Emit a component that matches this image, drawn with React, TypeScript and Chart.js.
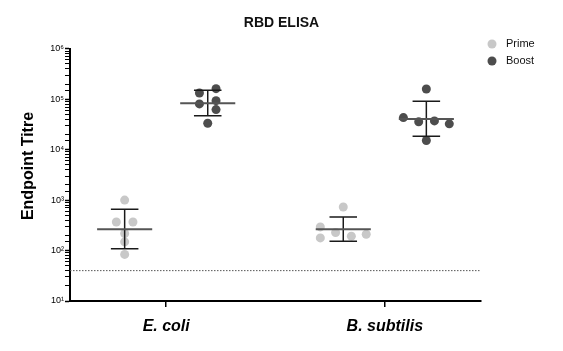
import React, { useEffect, useRef } from 'react';
import { Chart, registerables } from 'chart.js';

Chart.register(...registerables);

const chartTitle = 'RBD ELISA';
const yAxisTitle = 'Endpoint Titre';
const categories = ['E. coli', 'B. subtilis'];
const seriesNames = ['Prime', 'Boost'];
const seriesColors = ['#c8c8c8', '#4d4d4d'];
const yMin = 10;
const yMax = 1e6;
const detectionLimit = 40;

// individual animals (endpoint titres) and their horizontal jitter within the column
const primeEcoli = [1000, 369, 369, 218, 149, 84];
const primeEcoliJitter = [0, -0.038, 0.038, 0, 0, 0];
const boostEcoli = [162000, 133000, 93800, 80700, 62300, 33400];
const boostEcoliJitter = [0.038, -0.038, 0.038, -0.038, 0.038, 0];
const primeBsub = [731, 294, 178, 228, 193, 211];
const primeBsubJitter = [0, -0.105, -0.105, -0.035, 0.037, 0.105];
const boostBsub = [160000, 43300, 35600, 37200, 32500, 15200];
const boostBsubJitter = [0, -0.105, -0.035, 0.037, 0.105, 0];

// geometric mean and SD range per category
const primeMean = [265, 265];
const primeLower = [108, 153];
const primeUpper = [658, 463];
const boostMean = [83000, 40800];
const boostLower = [46800, 18500];
const boostUpper = [150000, 90800];

const FONT = "'Liberation Sans', Arial, Helvetica, sans-serif";
const GROUP_OFFSET = 0.19;
const MEAN_HALF = 0.126;
const CAP_HALF = 0.063;
const SUP: Record<number, string> = { 0: '⁰', 1: '¹', 2: '²', 3: '³', 4: '⁴', 5: '⁵', 6: '⁶' };

function isPow10(v: number) {
  const l = Math.log10(v);
  return Math.abs(l - Math.round(l)) < 1e-9;
}

function pts(cx: number, values: number[], jitter: number[]) {
  return values.map((v, i) => ({ x: cx + jitter[i], y: v }));
}

function whisker(cx: number, lo: number, hi: number) {
  return [
    { x: cx, y: lo }, { x: cx, y: hi }, { x: cx, y: null },
    { x: cx - CAP_HALF, y: hi }, { x: cx + CAP_HALF, y: hi }, { x: cx, y: null },
    { x: cx - CAP_HALF, y: lo }, { x: cx + CAP_HALF, y: lo },
  ];
}

function meanLine(cx: number, m: number) {
  return [{ x: cx - MEAN_HALF, y: m }, { x: cx + MEAN_HALF, y: m }];
}

const decorPlugin = {
  id: 'decor',
  afterDraw(chart: any) {
    const ctx = chart.ctx;
    ctx.save();
    // legend
    seriesNames.forEach((name, i) => {
      const y = 44 + i * 17;
      ctx.beginPath();
      ctx.fillStyle = seriesColors[i];
      ctx.arc(492, y, 4.5, 0, Math.PI * 2);
      ctx.fill();
      ctx.fillStyle = '#111';
      ctx.font = `11px ${FONT}`;
      ctx.textBaseline = 'middle';
      ctx.textAlign = 'left';
      ctx.fillText(name, 506, y);
    });
    // y-axis title
    ctx.translate(28.5, 166);
    ctx.rotate(-Math.PI / 2);
    ctx.fillStyle = '#000';
    ctx.font = `bold 16px ${FONT}`;
    ctx.textAlign = 'center';
    ctx.textBaseline = 'middle';
    ctx.fillText(yAxisTitle, 0, 0);
    ctx.restore();
  },
};

export default function App() {
  const ref = useRef<HTMLCanvasElement>(null);
  useEffect(() => {
    if (!ref.current) return;
    const datasets: any[] = [];
    categories.forEach((_, c) => {
      const cx = c + 1;
      const pX = cx - GROUP_OFFSET;
      const bX = cx + GROUP_OFFSET;
      const pVals = c === 0 ? primeEcoli : primeBsub;
      const pJit = c === 0 ? primeEcoliJitter : primeBsubJitter;
      const bVals = c === 0 ? boostEcoli : boostBsub;
      const bJit = c === 0 ? boostEcoliJitter : boostBsubJitter;
      datasets.push({
        label: seriesNames[0], data: pts(pX, pVals, pJit), order: 2,
        pointRadius: 4.5, pointBackgroundColor: seriesColors[0], pointBorderWidth: 0, showLine: false,
      });
      datasets.push({
        label: seriesNames[1], data: pts(bX, bVals, bJit), order: 2,
        pointRadius: 4.5, pointBackgroundColor: seriesColors[1], pointBorderWidth: 0, showLine: false,
      });
      datasets.push({
        label: 'sd', data: whisker(pX, primeLower[c], primeUpper[c]), order: 1, showLine: true,
        spanGaps: false, pointRadius: 0, borderColor: '#1a1a1a', borderWidth: 1.5,
      });
      datasets.push({
        label: 'sd', data: whisker(bX, boostLower[c], boostUpper[c]), order: 1, showLine: true,
        spanGaps: false, pointRadius: 0, borderColor: '#1a1a1a', borderWidth: 1.5,
      });
      datasets.push({
        label: 'mean', data: meanLine(pX, primeMean[c]), order: 0, showLine: true,
        pointRadius: 0, borderColor: '#555', borderWidth: 2,
      });
      datasets.push({
        label: 'mean', data: meanLine(bX, boostMean[c]), order: 0, showLine: true,
        pointRadius: 0, borderColor: '#555', borderWidth: 2,
      });
    });
    datasets.push({
      label: 'limit', data: [{ x: 0.56, y: detectionLimit }, { x: 2.44, y: detectionLimit }],
      order: 3, showLine: true, pointRadius: 0, borderColor: '#555', borderWidth: 1, borderDash: [1.5, 1.5],
    });

    const chart = new Chart(ref.current, {
      type: 'scatter',
      data: { datasets },
      plugins: [decorPlugin],
      options: {
        animation: false,
        responsive: false,
        events: [],
        layout: { padding: 0 },
        plugins: {
          legend: { display: false },
          tooltip: { enabled: false },
          title: {
            display: true, text: chartTitle, color: '#111',
            font: { family: FONT, size: 14, weight: 'bold' },
            padding: { top: 15, bottom: 17 },
          },
        },
        scales: {
          x: {
            type: 'linear', min: 0.56, max: 2.44,
            afterBuildTicks: (s: any) => { s.ticks = categories.map((_, i) => ({ value: i + 1 })); },
            afterFit: (s: any) => { s.height = 50; },
            ticks: {
              autoSkip: false, color: '#000', padding: 10,
              callback: (v: any) => categories[Math.round(Number(v)) - 1] ?? '',
              font: { family: FONT, size: 16, weight: 'bold', style: 'italic' },
            },
            grid: { drawOnChartArea: false, drawTicks: true, tickLength: 6, color: '#000', lineWidth: 1.5 },
            border: { display: true, color: '#000', width: 2 },
          },
          y: {
            type: 'logarithmic', min: yMin, max: yMax,
            afterFit: (s: any) => { s.width = 70; },
            ticks: {
              autoSkip: false, color: '#000', padding: 1,
              font: { family: FONT, size: 9 },
              callback: (v: any) => {
                const n = Number(v);
                if (!isPow10(n)) return '';
                return '10' + SUP[Math.round(Math.log10(n))];
              },
            },
            grid: {
              drawOnChartArea: false, drawTicks: true, tickLength: 5, color: '#000',
              tickWidth: (ctx: any) => (ctx.tick && isPow10(ctx.tick.value) ? 1.5 : 1),
            },
            border: { display: true, color: '#000', width: 2 },
          },
          legendSpace: {
            type: 'linear', position: 'right', display: true,
            afterFit: (s: any) => { s.width = 82; },
            ticks: { display: false },
            grid: { display: false, drawTicks: false },
            border: { display: false },
          },
        },
      } as any,
    });
    return () => chart.destroy();
  }, []);

  return (
    <div style={{ position: 'absolute', left: 0, top: 0, width: 563, height: 351, background: '#fff' }}>
      <canvas ref={ref} width={563} height={351} style={{ display: 'block' }} />
    </div>
  );
}
